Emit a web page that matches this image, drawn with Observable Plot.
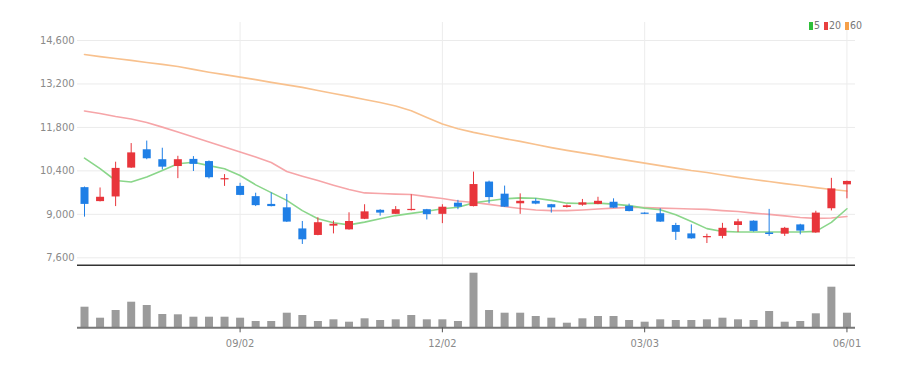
<!DOCTYPE html>
<html>
<head>
<meta charset="utf-8">
<script src="https://cdn.jsdelivr.net/npm/d3@7"></script>
<script src="https://cdn.jsdelivr.net/npm/@observablehq/plot@0.6"></script>
<style>
  body { margin: 0; background: #fff; }
  #wrap { position: relative; width: 907px; height: 368px; background: #fff; font-family: "Liberation Sans Narrow", "DejaVu Sans Condensed", sans-serif; }
  #legend { position: absolute; top: 19px; left: 807px; font-size: 10.5px; color: #777; white-space: nowrap; }
  #legend span.sw { display: inline-block; width: 4px; height: 8px; margin: 0 1px 0 2px; vertical-align: -1px; }
  #price, #vol { display: block; }
</style>
</head>
<body>
<div id="wrap">
  <div id="legend"><span class="sw" style="background:#2fbf3a"></span>5<span class="sw" style="background:#e8403f;margin-left:4px"></span>20<span class="sw" style="background:#f5a04a;margin-left:4px"></span>60</div>
  <div id="price"></div>
  <div id="vol"></div>
</div>
<script>
const open  = [9860,9410,9560,10490,11080,10760,10540,10770,10700,10110,9900,9570,9320,9210,8530,8320,8620,8500,8840,9130,9000,9120,9150,9000,9360,9250,10040,9650,9340,9420,9310,9220,9295,9320,9390,9260,9040,9020,8640,8370,8245,8290,8640,8780,8400,8360,8660,8400,9180,9950];
const close = [9320,9550,10480,10980,10790,10520,10760,10610,10180,10150,9610,9280,9250,8750,8180,8730,8680,8770,9080,9040,9150,9160,8990,9230,9230,9960,9540,9230,9420,9330,9210,9275,9370,9420,9200,9090,9000,8750,8420,8210,8285,8550,8760,8450,8350,8550,8460,9040,9820,10060];
const high  = [9880,9850,10680,11280,11360,11130,10870,10860,10720,10280,10000,9680,9690,9640,8770,8890,8780,9050,9310,9150,9250,9630,9160,9310,9450,10360,10070,9910,9660,9500,9320,9300,9480,9550,9500,9330,9050,9180,8710,8660,8360,8710,8840,8790,9160,8580,8680,9100,10160,10070];
const low   = [8910,9400,9250,10480,10760,10430,10150,10380,10140,9900,9600,9250,9240,8740,8030,8310,8370,8490,8830,8940,9000,9110,8820,8700,9150,9240,9340,9220,9000,9310,9040,9200,9260,9310,9190,9080,8990,8740,8160,8200,8060,8210,8415,8430,8290,8290,8340,8390,9110,9500];
const volume = [20600,9600,17300,25600,22300,13300,13000,10600,10600,10600,9600,6300,6300,14600,12300,6300,8000,5600,9000,7300,8000,12300,8000,8000,6300,54600,17300,14600,14600,11300,9600,4600,9000,11300,11300,7300,5600,8000,7300,7300,8000,9600,8000,7300,16300,5600,6300,14000,40600,14600];
const ma5  = [10810,10470,10090,10040,10200,10410,10630,10680,10570,10470,10250,9950,9700,9450,9120,8860,8730,8660,8750,8860,8960,9030,9100,9180,9230,9370,9440,9500,9530,9520,9450,9360,9350,9360,9330,9280,9200,9150,8990,8770,8540,8450,8430,8430,8430,8430,8430,8450,8740,9180];
const ma20 = [12330,12250,12150,12070,11960,11810,11650,11490,11330,11170,11010,10850,10670,10380,10230,10090,9940,9800,9690,9670,9650,9640,9570,9510,9430,9380,9320,9250,9190,9140,9120,9120,9140,9170,9200,9220,9220,9200,9190,9170,9160,9120,9090,9040,9000,8950,8900,8870,8880,8930];
const ma60 = [14150,14080,14020,13960,13890,13830,13760,13670,13580,13500,13420,13340,13250,13170,13090,12990,12890,12800,12700,12600,12490,12340,12120,11910,11760,11640,11540,11440,11350,11250,11150,11060,10980,10900,10810,10730,10650,10570,10490,10410,10350,10270,10190,10120,10060,9990,9930,9860,9800,9750];
const tickIndex = [10, 23, 36, 49];
const tickLabels = ["09/02", "12/02", "03/03", "06/01"];
const yTicks = [7600, 9000, 10400, 11800, 13200, 14600];

const rows = open.map((o, i) => ({i, open: o, close: close[i], high: high[i], low: low[i], vol: volume[i], ma5: ma5[i], ma20: ma20[i], ma60: ma60[i]}));
const up = rows.filter(d => d.close >= d.open);
const down = rows.filter(d => d.close < d.open);
const RED = "#e8353b", BLUE = "#1f7fe6";
const font = "'Liberation Sans Narrow', 'DejaVu Sans Condensed', sans-serif";
const xDomain = [-0.45, 49.55];
const yMin = 7352, yMax = 15180;

const price = Plot.plot({
  width: 907, height: 266,
  marginLeft: 77, marginRight: 52, marginTop: 22, marginBottom: 1,
  style: {fontFamily: font, background: "transparent"},
  x: {domain: xDomain, axis: null, label: null},
  y: {domain: [yMin, yMax], axis: null, label: null},
  marks: [
    Plot.ruleY(yTicks, {stroke: "#ebebeb"}),
    Plot.ruleX(tickIndex, {stroke: "#ececec"}),
    Plot.axisY({ticks: yTicks, tickSize: 0, tickPadding: 3, tickFormat: d3.format(","), fill: "#8a8a8a", fontSize: 11, label: null}),
    Plot.line(rows, {x: "i", y: "ma60", stroke: "#f8c18e", strokeWidth: 1.6}),
    Plot.line(rows, {x: "i", y: "ma20", stroke: "#f6a5a8", strokeWidth: 1.6}),
    Plot.line(rows, {x: "i", y: "ma5", stroke: "#8ad68a", strokeWidth: 1.6}),
    Plot.ruleX(up, {x: "i", y1: "low", y2: "high", stroke: RED, strokeWidth: 1}),
    Plot.ruleX(down, {x: "i", y1: "low", y2: "high", stroke: BLUE, strokeWidth: 1}),
    Plot.ruleX(up, {x: "i", y1: "open", y2: "close", stroke: RED, strokeWidth: 8}),
    Plot.ruleX(down, {x: "i", y1: "open", y2: "close", stroke: BLUE, strokeWidth: 8}),
    Plot.ruleY([yMin], {stroke: "#333", strokeWidth: 2})
  ]
});
document.getElementById("price").append(price);

const vol = Plot.plot({
  width: 907, height: 102,
  marginLeft: 77, marginRight: 52, marginTop: 0, marginBottom: 40.7,
  style: {fontFamily: font, background: "transparent"},
  x: {domain: xDomain, axis: null, label: null},
  y: {domain: [0, 61300], axis: null, label: null},
  marks: [
    Plot.ruleX(rows, {x: "i", y1: 0, y2: "vol", stroke: "#9b9b9b", strokeWidth: 8}),
    Plot.ruleY([0], {stroke: "#777", strokeWidth: 2}),
    Plot.axisX({ticks: tickIndex, tickFormat: (d) => tickLabels[tickIndex.indexOf(d)], tickSize: 5, tickPadding: 6, stroke: "#555", fill: "#8a8a8a", fontSize: 11, label: null})
  ]
});
document.getElementById("vol").append(vol);
</script>
</body>
</html>
